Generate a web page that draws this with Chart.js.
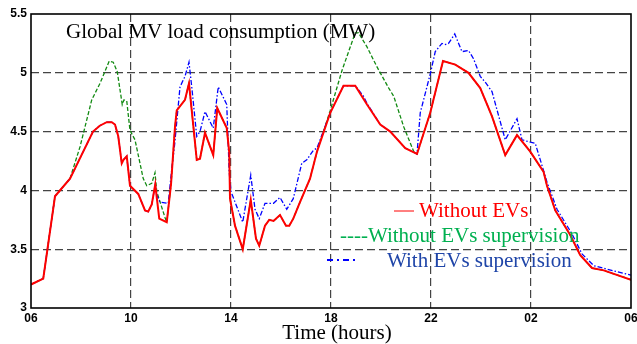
<!DOCTYPE html>
<html>
<head>
<meta charset="utf-8">
<script src="https://cdn.jsdelivr.net/npm/chart.js@4/dist/chart.umd.min.js"></script>
<style>
  html, body { margin: 0; padding: 0; background: #fff; }
  #wrap { width: 637px; height: 344px; position: relative; }
</style>
</head>
<body>
<div id="wrap"><canvas id="myChart" width="637" height="344"></canvas></div>
<script>
// hours after 06:00, load in MW
const redHours = [0, 0.49, 0.96, 1.56, 2.48, 2.75, 3.03, 3.23, 3.36, 3.49, 3.63, 3.7, 3.83, 3.96, 4.29, 4.56, 4.69, 4.83, 4.97, 5.13, 5.43, 5.6, 5.76, 5.83, 6.16, 6.32, 6.63, 6.76, 6.96, 7.29, 7.45, 7.83, 7.93, 7.96, 8.16, 8.47, 8.79, 9.0, 9.13, 9.36, 9.53, 9.7, 9.96, 10.2, 10.33, 10.49, 10.76, 11.16, 11.44, 11.97, 12.5, 12.97, 13.44, 13.97, 14.37, 14.97, 15.44, 15.97, 16.48, 16.97, 17.5, 17.97, 18.44, 18.97, 19.44, 19.97, 20.5, 20.64, 20.97, 21.57, 21.97, 22.44, 22.91, 24];
const redLoad = [3.20, 3.25, 3.95, 4.10, 4.50, 4.55, 4.58, 4.58, 4.56, 4.46, 4.23, 4.26, 4.29, 4.04, 3.97, 3.83, 3.82, 3.88, 4.05, 3.76, 3.73, 4.05, 4.54, 4.68, 4.77, 4.91, 4.26, 4.27, 4.49, 4.30, 4.70, 4.53, 4.32, 3.93, 3.70, 3.50, 3.92, 3.59, 3.53, 3.70, 3.75, 3.74, 3.79, 3.70, 3.70, 3.76, 3.90, 4.10, 4.33, 4.66, 4.89, 4.89, 4.73, 4.56, 4.50, 4.36, 4.31, 4.66, 5.10, 5.07, 5.00, 4.87, 4.63, 4.30, 4.47, 4.33, 4.16, 4.04, 3.83, 3.62, 3.45, 3.34, 3.32, 3.24];

const greenHours = [0, 0.49, 0.96, 1.56, 1.96, 2.43, 2.76, 3.13, 3.29, 3.45, 3.65, 3.72, 3.83, 3.96, 4.16, 4.36, 4.49, 4.63, 4.83, 4.96, 5.03, 5.36, 5.43, 5.6, 5.76, 5.83, 6.16, 6.32, 6.63, 6.76, 6.96, 7.29, 7.45, 7.83, 7.93, 7.96, 8.16, 8.47, 8.79, 9.0, 9.13, 9.36, 9.53, 9.7, 9.96, 10.2, 10.33, 10.49, 10.76, 11.16, 11.44, 11.97, 12.44, 12.97, 13.1, 13.44, 13.84, 14.31, 14.51, 14.91, 15.31, 15.44, 15.97, 16.48, 16.97, 17.5, 17.97, 18.44, 18.97, 19.44, 19.97, 20.5, 20.64, 20.97, 21.57, 21.97, 22.44, 22.91, 24];
const greenLoad = [3.20, 3.25, 3.95, 4.10, 4.37, 4.77, 4.91, 5.10, 5.09, 5.01, 4.73, 4.77, 4.76, 4.51, 4.43, 4.23, 4.10, 4.04, 4.06, 4.15, 3.99, 3.77, 3.73, 4.05, 4.54, 4.68, 4.77, 4.91, 4.26, 4.27, 4.49, 4.30, 4.70, 4.53, 4.32, 3.93, 3.70, 3.50, 3.92, 3.59, 3.53, 3.70, 3.75, 3.74, 3.79, 3.70, 3.70, 3.76, 3.90, 4.10, 4.33, 4.68, 5.02, 5.34, 5.34, 5.22, 5.05, 4.87, 4.80, 4.54, 4.33, 4.31, 4.66, 5.10, 5.07, 5.00, 4.87, 4.63, 4.30, 4.47, 4.33, 4.16, 4.04, 3.83, 3.62, 3.45, 3.34, 3.32, 3.24];

const blueHours = [0, 0.49, 0.96, 1.56, 2.48, 2.75, 3.03, 3.23, 3.36, 3.49, 3.63, 3.7, 3.83, 3.96, 4.29, 4.56, 4.69, 4.83, 4.97, 5.03, 5.16, 5.49, 5.62, 5.75, 5.96, 6.16, 6.32, 6.43, 6.63, 6.76, 6.96, 7.29, 7.49, 7.83, 7.93, 8.0, 8.47, 8.79, 8.96, 9.13, 9.36, 9.7, 9.96, 10.23, 10.49, 10.83, 11.03, 11.29, 11.44, 11.97, 12.5, 12.97, 13.3, 13.44, 13.97, 14.37, 14.97, 15.44, 15.57, 15.97, 16.17, 16.44, 16.57, 16.7, 16.95, 17.24, 17.5, 17.7, 17.97, 18.17, 18.44, 18.97, 19.44, 19.64, 19.97, 20.17, 20.5, 20.64, 21.04, 21.64, 22.04, 22.51, 23.04, 24];
const blueLoad = [3.20, 3.25, 3.95, 4.10, 4.50, 4.55, 4.58, 4.58, 4.56, 4.46, 4.23, 4.26, 4.29, 4.04, 3.97, 3.83, 3.82, 3.88, 4.05, 3.96, 3.90, 3.89, 4.16, 4.40, 4.88, 4.97, 5.09, 4.88, 4.46, 4.50, 4.67, 4.53, 4.88, 4.73, 4.15, 3.99, 3.73, 4.13, 3.84, 3.76, 3.89, 3.89, 3.94, 3.84, 3.93, 4.23, 4.26, 4.34, 4.36, 4.66, 4.89, 4.89, 4.80, 4.74, 4.56, 4.50, 4.36, 4.31, 4.66, 4.99, 5.18, 5.25, 5.24, 5.25, 5.33, 5.18, 5.19, 5.12, 4.97, 4.92, 4.84, 4.43, 4.61, 4.43, 4.41, 4.40, 4.17, 4.07, 3.84, 3.63, 3.46, 3.36, 3.33, 3.28];

const xTicks = ["06", "10", "14", "18", "22", "02", "06"];
const chartTitle = "Global MV load consumption (MW)";
const xTitle = "Time (hours)";

function pts(hours, load) {
    return hours.map((h, i) => ({ x: h, y: load[i] }));
}

// title, legend text and the frame, drawn on top of the chart
const overlay = {
    id: "overlay",
    afterDraw(chart) {
        const ctx = chart.ctx;
        const a = chart.chartArea;
        ctx.save();
        ctx.font = '21px "Liberation Serif"';
        ctx.textBaseline = "alphabetic";
        ctx.textAlign = "left";
        ctx.fillStyle = "#000";
        ctx.fillText(chartTitle, 66, 38);

        ctx.textAlign = "center";
        ctx.fillText(xTitle, 337, 339);
        ctx.textAlign = "left";

        // legend
        ctx.strokeStyle = "#ff0000";
        ctx.lineWidth = 1;
        ctx.beginPath(); ctx.moveTo(394, 211); ctx.lineTo(414, 211); ctx.stroke();
        ctx.fillStyle = "#ff0000";
        ctx.fillText("Without EVs", 419, 217);

        ctx.fillStyle = "#00b050";
        ctx.fillText("----Without EVs supervision", 340, 242);

        ctx.strokeStyle = "#0000ff";
        ctx.lineWidth = 2;
        ctx.setLineDash([6, 4, 2, 4]);
        ctx.beginPath(); ctx.moveTo(327, 260); ctx.lineTo(359, 260); ctx.stroke();
        ctx.setLineDash([]);
        ctx.fillStyle = "#1f45a8";
        ctx.fillText("With EVs supervision", 387, 267);

        ctx.strokeStyle = "#000";
        ctx.lineWidth = 1.6;
        ctx.strokeRect(a.left, a.top, a.right - a.left, a.bottom - a.top);
        ctx.restore();
    }
};

const ctx = document.getElementById("myChart").getContext("2d");
new Chart(ctx, {
    type: "line",
    data: {
        datasets: [
            {
                label: "Without EVs",
                data: pts(redHours, redLoad),
                borderColor: "#ff0000",
                borderWidth: 2,
                pointRadius: 0,
                tension: 0
            },
            {
                label: "With EVs supervision",
                data: pts(blueHours, blueLoad),
                borderColor: "#0000ff",
                borderWidth: 1.3,
                borderDash: [5, 2, 1.5, 2],
                pointRadius: 0,
                tension: 0
            },
            {
                label: "Without EVs supervision",
                data: pts(greenHours, greenLoad),
                borderColor: "#128a12",
                borderWidth: 1.3,
                borderDash: [4, 2],
                pointRadius: 0,
                tension: 0
            }
        ]
    },
    options: {
        responsive: false,
        animation: false,
        layout: { padding: { top: 14, right: 6, left: 0, bottom: 0 } },
        plugins: { legend: { display: false }, tooltip: { enabled: false } },
        scales: {
            x: {
                type: "linear",
                min: 0,
                max: 24,
                afterBuildTicks: s => { s.ticks = xTicks.map((t, i) => ({ value: i * 4 })); },
                ticks: {
                    autoSkip: false,
                    maxRotation: 0,
                    padding: 3,
                    color: "#000",
                    font: { family: "Liberation Sans", size: 12, weight: "bold" },
                    callback: (v, i) => xTicks[i]
                },
                grid: {
                    drawTicks: false,
                    color: c => (c.tick && (c.tick.value === 0 || c.tick.value === 24)) ? "rgba(0,0,0,0)" : "#444",
                    lineWidth: 1.2
                },
                border: { display: false, dash: [8, 4] },
                afterFit: s => { s.height = 36; s.paddingLeft = 0; s.paddingRight = 0; }
            },
            y: {
                min: 3,
                max: 5.5,
                ticks: {
                    stepSize: 0.5,
                    padding: 4,
                    color: "#000",
                    font: { family: "Liberation Sans", size: 12, weight: "bold" },
                    callback: v => String(v)
                },
                grid: {
                    drawTicks: false,
                    color: c => (c.tick && (c.tick.value === 3 || c.tick.value === 5.5)) ? "rgba(0,0,0,0)" : "#444",
                    lineWidth: 1.2
                },
                border: { display: false, dash: [8, 4] },
                afterFit: s => { s.width = 31; s.paddingTop = 0; s.paddingBottom = 0; }
            }
        }
    },
    plugins: [overlay]
});
</script>
</body>
</html>
